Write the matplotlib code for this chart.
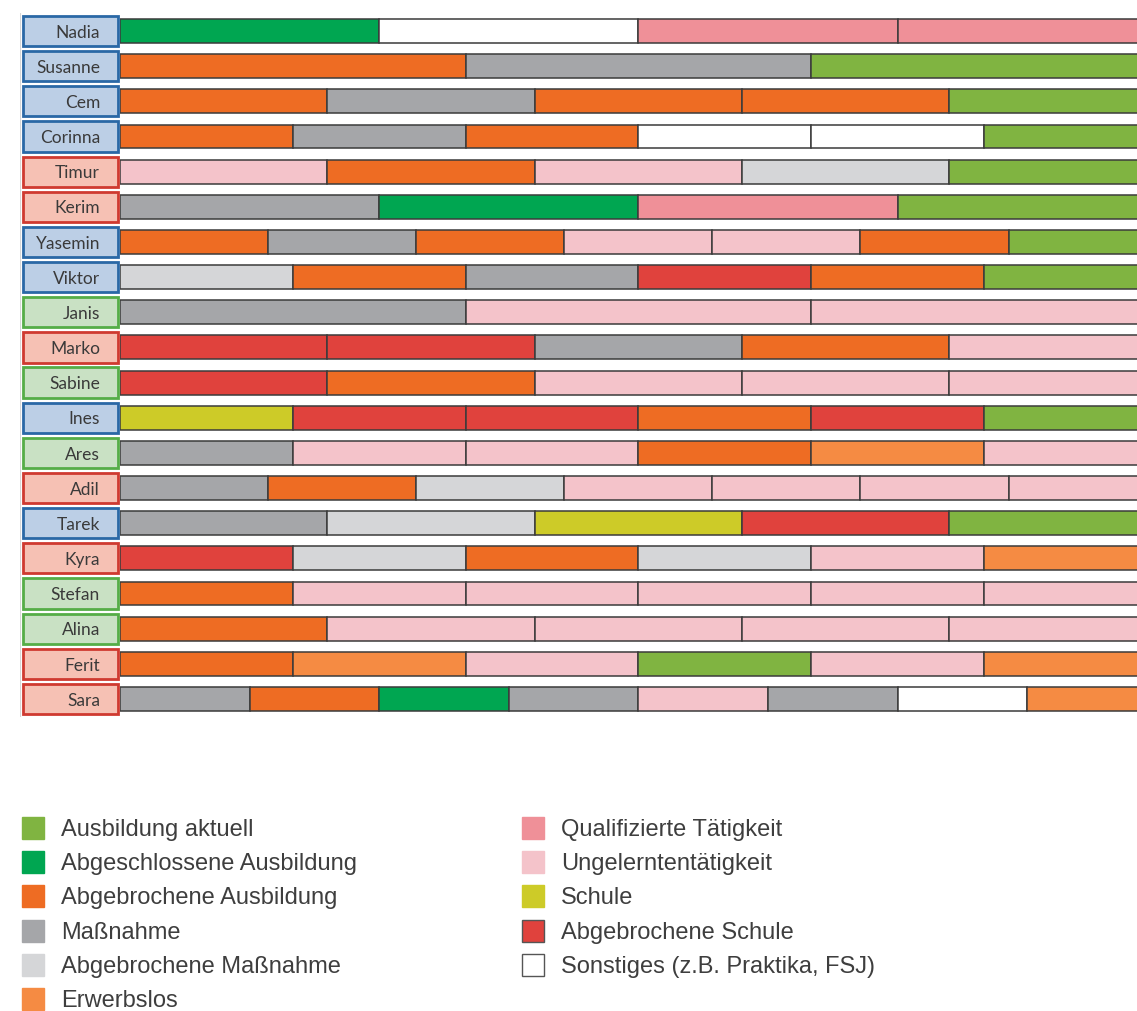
import matplotlib.pyplot as plt
from matplotlib.patches import Rectangle

# categories (legend order) and their colours
cat_codes = ["A", "AA", "AB", "M", "MA", "E", "Q", "U", "S", "SA", "O"]
cat_labels = ["Ausbildung aktuell", "Abgeschlossene Ausbildung", "Abgebrochene Ausbildung",
              "Maßnahme", "Abgebrochene Maßnahme", "Erwerbslos",
              "Qualifizierte Tätigkeit", "Ungelerntentätigkeit", "Schule",
              "Abgebrochene Schule", "Sonstiges (z.B. Praktika, FSJ)"]
cat_colors = ["#80b441", "#00a651", "#ee6c23", "#a5a6a9", "#d5d6d8", "#f58b43",
              "#ef9098", "#f4c3ca", "#cdcb28", "#e0423d", "#ffffff"]

# people, group of the name box, and their sequence of phases (equal-length phases)
names = ["Nadia", "Susanne", "Cem", "Corinna", "Timur", "Kerim", "Yasemin", "Viktor",
         "Janis", "Marko", "Sabine", "Ines", "Ares", "Adil", "Tarek", "Kyra",
         "Stefan", "Alina", "Ferit", "Sara"]
groups = ["b", "b", "b", "b", "r", "r", "b", "b", "g", "r", "g", "b", "g", "r", "b", "r",
          "g", "g", "r", "r"]
phases = [
    ["AA", "O", "Q", "Q"],
    ["AB", "M", "A"],
    ["AB", "M", "AB", "AB", "A"],
    ["AB", "M", "AB", "O", "O", "A"],
    ["U", "AB", "U", "MA", "A"],
    ["M", "AA", "Q", "A"],
    ["AB", "M", "AB", "U", "U", "AB", "A"],
    ["MA", "AB", "M", "SA", "AB", "A"],
    ["M", "U", "U"],
    ["SA", "SA", "M", "AB", "U"],
    ["SA", "AB", "U", "U", "U"],
    ["S", "SA", "SA", "AB", "SA", "A"],
    ["M", "U", "U", "AB", "E", "U"],
    ["M", "AB", "MA", "U", "U", "U", "U"],
    ["M", "MA", "S", "SA", "A"],
    ["SA", "MA", "AB", "MA", "U", "E"],
    ["AB", "U", "U", "U", "U", "U"],
    ["AB", "U", "U", "U", "U"],
    ["AB", "E", "U", "A", "U", "E"],
    ["M", "AB", "AA", "M", "U", "M", "O", "E"],
]

box_edge = {"b": "#2a68a6", "r": "#cf3a30", "g": "#55ad47"}
box_face = {"b": "#bccfe6", "r": "#f6c1b4", "g": "#c9e1c4"}
color_of = dict(zip(cat_codes, cat_colors))

W, H = 1137, 1012
fig = plt.figure(figsize=(W / 100, H / 100), dpi=100)

top_px, bot_px = 14.4, 717.6
ax = fig.add_axes([120 / W, 1 - bot_px / H, 1017 / W, (bot_px - top_px) / H])
for i, seq in enumerate(phases):
    w = 1.0 / len(seq)
    for j, c in enumerate(seq):
        ax.barh(i, w, left=j * w, height=0.68, color=color_of[c],
                edgecolor="#3b3b3b", linewidth=1.1)
ax.set_xlim(0, 0.981)
ax.set_ylim(len(names) - 0.5, -0.5)
ax.axis("off")

# name boxes
axl = fig.add_axes([20 / W, 1 - bot_px / H, 100 / W, (bot_px - top_px) / H], sharey=ax)
axl.set_xlim(0, 100)
for i, (n, g) in enumerate(zip(names, groups)):
    axl.add_patch(Rectangle((2.5, i - 0.43), 95.5, 0.86, facecolor=box_face[g],
                            edgecolor=box_edge[g], linewidth=2.0, clip_on=False))
    axl.text(80, i + 0.02, n, ha="right", va="center", fontsize=12.5,
             family="Lato", color="#3a3a3a")
axl.axvline(0, color="#d8d8d8", linewidth=0.8)
axl.axis("off")

# legend
axg = fig.add_axes([0, 0, 1, 1])
axg.set_xlim(0, W)
axg.set_ylim(H, 0)
axg.axis("off")
for k, (lab, col) in enumerate(zip(cat_labels, cat_colors)):
    colx = 22 if k < 6 else 522
    row = k if k < 6 else k - 6
    yc = 829 + row * 34.2
    ec = "#555555" if lab in ("Abgebrochene Schule", "Sonstiges (z.B. Praktika, FSJ)") else col
    axg.add_patch(Rectangle((colx, yc - 11), 22, 22, facecolor=col, edgecolor=ec,
                            linewidth=1.0))
    axg.text(colx + 39, yc + 7, lab, ha="left", va="baseline", fontsize=17,
             family="Liberation Sans", color="#3e3e3e")

fig.savefig("out.png", dpi=100)
